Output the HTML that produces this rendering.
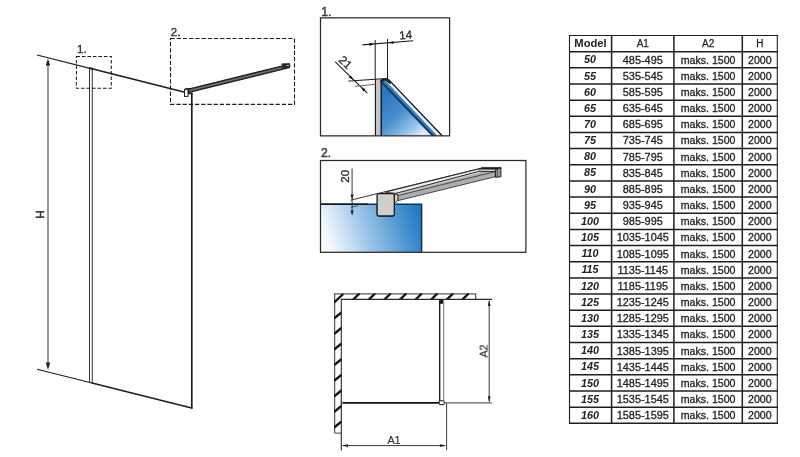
<!DOCTYPE html>
<html><head><meta charset="utf-8"><title>Walk-in shower dimensions</title>
<style>
html,body{margin:0;padding:0;background:#fff;}
body{width:800px;height:457px;overflow:hidden;font-family:"Liberation Sans",sans-serif;}
svg{display:block;}
.gs{filter:grayscale(1);}
svg text{font-family:"Liberation Sans",sans-serif;}
</style></head>
<body>
<svg width="800" height="457" viewBox="0 0 800 457">
<defs>
<linearGradient id="g1" gradientUnits="userSpaceOnUse" x1="383" y1="98" x2="418" y2="138">
<stop offset="0" stop-color="#2c78bd"/><stop offset="0.45" stop-color="#4a92d0"/><stop offset="0.8" stop-color="#9cc6ea"/><stop offset="1" stop-color="#dcecf9"/>
</linearGradient>
<linearGradient id="g2" gradientUnits="userSpaceOnUse" x1="322" y1="246" x2="420" y2="214">
<stop offset="0" stop-color="#ffffff"/><stop offset="0.1" stop-color="#eef5fc"/><stop offset="0.5" stop-color="#8fbde5"/><stop offset="0.85" stop-color="#3f8dcd"/><stop offset="1" stop-color="#2479c0"/>
</linearGradient>
<clipPath id="c1"><rect x="320.5" y="17.8" width="129.1" height="118"/></clipPath>
<clipPath id="c2"><rect x="320.5" y="160.5" width="205.4" height="91.8"/></clipPath>
<clipPath id="cw"><path d="M334.1 293.3 L476 293.3 L476 299.9 L341.8 299.9 L341.8 433.5 L334.1 433.5 Z"/></clipPath>

</defs>
<rect width="800" height="457" fill="#fff"/>

<!-- ===== main isometric drawing ===== -->
<g id="main" class="gs" stroke="#1c1c1c" fill="none" stroke-width="1">
<!-- top slanted line -->
<line x1="37" y1="55" x2="91" y2="68.6" stroke-width="1.15"/>
<line x1="91" y1="68.6" x2="184.8" y2="92.2" stroke-width="1.5"/>
<!-- bottom slanted line -->
<line x1="37" y1="369.3" x2="91" y2="382.8" stroke-width="1.15"/>
<line x1="91" y1="382.8" x2="192.6" y2="408.2" stroke-width="1.4"/>
<!-- H dimension arrow -->
<line x1="48" y1="61" x2="48" y2="367" stroke-width="0.9"/>
<path d="M48 58.6 L50.2 65.6 L45.8 65.6 Z" fill="#1c1c1c" stroke="none"/>
<path d="M48 369.8 L50.2 362.6 L45.8 362.6 Z" fill="#1c1c1c" stroke="none"/>
<!-- glass panel profile (double line) -->
<line x1="89.5" y1="68" x2="89.5" y2="382.4" stroke-width="0.9"/>
<line x1="92.25" y1="68.6" x2="92.25" y2="383.2" stroke-width="0.9"/>
<path d="M89.2 67.9 L93 68.9" stroke-width="2"/>
<!-- right vertical edge -->
<line x1="191.8" y1="93" x2="191.8" y2="408.6" stroke-width="1.7"/>
<path d="M188 93.4 L192.6 93.4" stroke-width="1.5"/>
<!-- dashed callout boxes -->
<rect x="76.4" y="56.4" width="34.9" height="31.9" stroke-dasharray="3.6 1.9" stroke-width="1.05"/>
<rect x="170.5" y="38.45" width="124" height="65.95" stroke-dasharray="4.25 1.95" stroke-width="1.1"/>
<!-- support bar -->
<path d="M187.6 89.3 L288.6 64.4 L289.4 67.6 L188.4 92.6 Z" fill="#4a4a4a" stroke="#1c1c1c" stroke-width="1.1"/>
<path d="M190 90.5 L281 68" stroke="#9a9a9a" stroke-width="0.6"/>
<path d="M281.4 63.9 L289.6 63.6 L290 67 L283.4 67.8" fill="#2a2a2a" stroke="#1c1c1c" stroke-width="0.8"/>
<path d="M286.4 65.6 L289 65.5" stroke="#ddd" stroke-width="0.8"/>
<!-- bracket -->
<rect x="184.5" y="89.6" width="3.5" height="6.8" fill="#fff" stroke-width="1"/>
<path d="M184.4 89.4 L185.4 88.4 L190.6 88.6 L188.2 89.8" fill="#444" stroke-width="0.8"/>
<!-- labels -->
<g stroke="#3a3a3a" stroke-width="0.4" fill="#3a3a3a" font-size="11.5">
<text x="77" y="53.3">1.</text>
<text x="170.8" y="35.6">2.</text>
<text transform="translate(43.5 214.6) rotate(-90)" text-anchor="middle" font-size="11.8" fill="#2a2a2a" stroke="#2a2a2a" stroke-width="0.55">H</text>
</g>

</g>

<!-- ===== detail 1 ===== -->
<g id="d1">
<g clip-path="url(#c1)">
<!-- gray wall profile -->
<rect x="375.4" y="79.6" width="5.8" height="57" fill="#c6c6c8"/>
<!-- blue glass triangle -->
<path d="M381.2 82.6 L381.2 136 L432.6 136 Z" fill="url(#g1)"/>
<!-- frame band along hypotenuse -->
<path d="M381.4 80.2 L388.6 79.6 L442.6 136 L435.2 136 Z" fill="#e2eefa"/>
<path d="M381.4 80.6 L385 80.2 L437.6 136 L432.4 136 Z" fill="#3a7dbd"/>
<path d="M381.8 82.2 L433.6 136.4" stroke="#143a66" stroke-width="2.2" fill="none"/>
<path d="M388.4 79.4 L442.6 136.2" stroke="#101010" stroke-width="1.3" fill="none"/>
<!-- top cap -->
<path d="M380.6 79.2 L387.6 78.2 L391.4 82 L390.2 84.2 L385.2 80.6 L380.6 82.4 Z" fill="#1a2430"/>
<!-- profile edges -->
<line x1="375.4" y1="79.4" x2="375.4" y2="136" stroke="#111" stroke-width="1.1"/>
<line x1="381.2" y1="80" x2="381.2" y2="136" stroke="#0c1626" stroke-width="1.4"/>
</g>
<!-- dimension 14 -->
<g stroke="#1c1c1c" fill="none" stroke-width="1">
<line x1="375.2" y1="39.9" x2="375.2" y2="79.6"/>
<line x1="387.5" y1="39.1" x2="387.5" y2="78.6"/>
<line x1="362.4" y1="44.9" x2="413.2" y2="40.8" stroke-width="1.1"/>
<path d="M374.4 43.9 L369.2 42.8 L369.4 45.9 Z" fill="#1c1c1c" stroke="none"/>
<path d="M388.3 42.8 L393.4 41 L393.6 44 Z" fill="#1c1c1c" stroke="none"/>
<!-- dimension 21 -->
<line x1="335.2" y1="61.8" x2="367.3" y2="93.1" stroke-width="1.1"/>
<line x1="348.4" y1="81.1" x2="387.6" y2="78.4" stroke-width="1"/>
<line x1="354.5" y1="86.4" x2="376" y2="84.2" stroke="#555" stroke-width="0.9"/>
<path d="M353.6 80.1 L348.7 77.6 L350.9 75.4 Z" fill="#1c1c1c" stroke="none"/>
<path d="M360.6 86.6 L365.5 89.2 L363.3 91.4 Z" fill="#1c1c1c" stroke="none"/>
</g>
<g class="gs" fill="#262626" font-size="11.6" stroke="#262626" stroke-width="0.3">
<text transform="translate(406 39) rotate(-4.6)" text-anchor="middle">14</text>
<text transform="translate(335.2 61.8) rotate(44.3)" x="7.8" y="-2.8" text-anchor="middle">21</text>
</g>
<!-- box outline -->
<rect x="320.5" y="17.85" width="129.1" height="118" fill="none" stroke="#2a2a2a" stroke-width="1.25"/>
<text class="gs" x="321.3" y="15.6" font-size="12.2" fill="#3a3a3a" stroke="#3a3a3a" stroke-width="0.45">1.</text>

</g>

<!-- ===== detail 2 ===== -->
<g id="d2">
<g clip-path="url(#c2)">
<!-- blue glass -->
<rect x="320.5" y="204.2" width="101.3" height="48.2" fill="url(#g2)"/>
<!-- glass outline (top + right) -->
<path d="M320.5 204.2 L421.6 204.2 L421.6 252.4" fill="none" stroke="#0f2f58" stroke-width="1.5"/>
<path d="M320.5 204.1 L368 204.1" fill="none" stroke="#111" stroke-width="1.3"/>
<!-- support bar: top face -->
<path d="M385 192.2 L479.7 168.6 L480.2 171.1 L396.4 193.3 Z" fill="#ececec" stroke="#222" stroke-width="0.8" stroke-linejoin="round"/>
<!-- bar side face -->
<path d="M396.4 193.3 L480.2 171.1 L495.3 171.5 L495.3 176.7 L398 200.6 Z" fill="#aeaeae" stroke="#222" stroke-width="0.8" stroke-linejoin="round"/>
<path d="M397.4 195.7 L495.3 171.6" stroke="#333" stroke-width="0.8" fill="none"/>
<path d="M397 194.4 L480.2 172.2" stroke="#d2d2d2" stroke-width="0.9" fill="none"/>
<!-- bar end cap -->
<path d="M479.6 169.2 L481.6 167.4 L500.9 167.4 L500.9 169 L495.6 169.5 Z" fill="#1e1e1e" stroke="#1e1e1e" stroke-width="0.7" stroke-linejoin="round"/>
<path d="M479.9 169.7 L495.3 169.7 L495.3 171.3 L480.2 171 Z" fill="#dcdcdc"/><path d="M480.2 171.3 L495.3 171.5" stroke="#222" stroke-width="0.8"/>
<path d="M495.4 169.8 L500.9 167.7 L500.9 176.8 L495.4 177.3 Z" fill="#9a9a9a" stroke="#1e1e1e" stroke-width="1" stroke-linejoin="round"/>
<path d="M497.4 169.4 L497.4 177" stroke="#333" stroke-width="0.7"/>
<!-- long top-edge line of bar extended to dimension -->
<line x1="350.6" y1="200.2" x2="479.7" y2="168.6" stroke="#222" stroke-width="0.9"/>
<!-- bracket -->
<path d="M394.4 194 L397.9 194.6 L397.9 200.4 L394.4 203.6 Z" fill="#d4d4d4" stroke="#1c1c1c" stroke-width="0.9"/>
<rect x="376.6" y="203.6" width="18.2" height="13" rx="2" ry="2" fill="#0f2f58"/>
<rect x="377.1" y="193.6" width="17.2" height="22.4" rx="1.8" ry="1.8" fill="#cfcfcf" stroke="#1a1a1a" stroke-width="1.3"/>
</g>
<!-- dimension 20 -->
<g stroke="#222" fill="none" stroke-width="0.9">
<line x1="352.1" y1="168.4" x2="352.1" y2="212"/>
<path d="M352.1 199.2 L350.4 194.6 L353.8 194.6 Z" fill="#222" stroke="none"/>
<path d="M352.1 215.4 L350.4 210.6 L353.8 210.6 Z" fill="#222" stroke="none"/>
<path d="M351 207.3 L358.2 205.7" stroke-width="0.7"/>
</g>
<text class="gs" transform="translate(349 176.3) rotate(-90)" text-anchor="middle" font-size="11.4" fill="#262626" stroke="#262626" stroke-width="0.3">20</text>
<!-- box outline -->
<rect x="320.5" y="160.5" width="205.4" height="91.8" fill="none" stroke="#2a2a2a" stroke-width="1.25"/>
<text class="gs" x="321" y="157.4" font-size="12.2" fill="#3a3a3a" stroke="#3a3a3a" stroke-width="0.45">2.</text>

</g>

<!-- ===== plan view ===== -->
<g id="plan">
<g fill="none" stroke-linecap="butt">
<path d="M334.6 433.1 L334.6 293.8 L475.6 293.8 L475.6 299.4" stroke="#5c5c5c" stroke-width="1.3"/>
<path d="M334.6 433.1 L341.3 433.1" stroke="#444" stroke-width="1"/>
<path d="M352.9 299.9 L359.5 293.5 M368.5 299.9 L375.1 293.5 M384.1 299.9 L390.7 293.5 M399.7 299.9 L406.3 293.5 M415.3 299.9 L421.9 293.5 M430.9 299.9 L437.5 293.5 M446.5 299.9 L453.1 293.5 M462.1 299.9 L468.7 293.5 M334.2 302.5 L343.2 294 M334.2 318.3 L341.7 312.2 M334.2 333.9 L341.7 327.8 M334.2 349.5 L341.7 343.4 M334.2 365.1 L341.7 359.0 M334.2 380.7 L341.7 374.6 M334.2 396.3 L341.7 390.2 M334.2 411.9 L341.7 405.8 M334.2 427.5 L341.7 421.4" stroke="#141414" stroke-width="2.4" clip-path="url(#cw)"/>
<path d="M341.3 450.4 L341.3 299.4 L492 299.4" stroke="#2a2a2a" stroke-width="1.1"/>
<path d="M341.3 402.9 L440 402.9" stroke="#111" stroke-width="1.8"/>
<path d="M341.3 401.4 L344 402.9 L341.3 404.4 Z" fill="#fff" stroke="#111" stroke-width="0.7"/>
<path d="M439.7 299.6 L439.7 401" stroke="#111" stroke-width="1.3"/>
<path d="M443.7 299.6 L443.7 401" stroke="#666" stroke-width="0.9"/>
<rect x="439.2" y="299.6" width="3.8" height="4.2" fill="#1a1a1a"/>
<rect x="439.2" y="400.8" width="5" height="3.8" rx="0.8" fill="#fff" stroke="#111" stroke-width="1"/>
<path d="M444.6 402.9 L492 402.9" stroke="#2a2a2a" stroke-width="0.9"/>
<path d="M446.6 403 L446.6 450.4" stroke="#2a2a2a" stroke-width="0.9"/>
<path d="M343 445.6 L445 445.6" stroke="#222" stroke-width="0.9"/>
<path d="M341.6 445.6 L348 444.2 L348 447 Z M446.3 445.6 L439.9 444.2 L439.9 447 Z" fill="#222" stroke="none"/>
<path d="M489.2 301 L489.2 401.4" stroke="#222" stroke-width="0.9"/>
<path d="M489.2 299.7 L487.8 306.1 L490.6 306.1 Z M489.2 402.6 L487.8 396.2 L490.6 396.2 Z" fill="#222" stroke="none"/>
</g>
<g class="gs" fill="#333" stroke="#333" stroke-width="0.2" font-size="10.8" text-anchor="middle">
<text x="394" y="443.6">A1</text>
<text transform="translate(487.6 351) rotate(-90)">A2</text>
</g>

</g>

<!-- ===== table ===== -->
<g id="tgrid" stroke="#1e1e1e" fill="none">
<line x1="569.0" y1="35.50" x2="777.8" y2="35.50" stroke-width="1.0"/>
<line x1="569.0" y1="51.66" x2="777.8" y2="51.66" stroke-width="1.5"/>
<line x1="569.0" y1="67.82" x2="777.8" y2="67.82" stroke-width="1.5"/>
<line x1="569.0" y1="83.98" x2="777.8" y2="83.98" stroke-width="1.5"/>
<line x1="569.0" y1="100.13" x2="777.8" y2="100.13" stroke-width="1.5"/>
<line x1="569.0" y1="116.29" x2="777.8" y2="116.29" stroke-width="1.5"/>
<line x1="569.0" y1="132.45" x2="777.8" y2="132.45" stroke-width="1.5"/>
<line x1="569.0" y1="148.61" x2="777.8" y2="148.61" stroke-width="1.5"/>
<line x1="569.0" y1="164.77" x2="777.8" y2="164.77" stroke-width="1.5"/>
<line x1="569.0" y1="180.93" x2="777.8" y2="180.93" stroke-width="1.5"/>
<line x1="569.0" y1="197.08" x2="777.8" y2="197.08" stroke-width="1.5"/>
<line x1="569.0" y1="213.24" x2="777.8" y2="213.24" stroke-width="1.5"/>
<line x1="569.0" y1="229.40" x2="777.8" y2="229.40" stroke-width="1.5"/>
<line x1="569.0" y1="245.56" x2="777.8" y2="245.56" stroke-width="1.5"/>
<line x1="569.0" y1="261.72" x2="777.8" y2="261.72" stroke-width="1.5"/>
<line x1="569.0" y1="277.88" x2="777.8" y2="277.88" stroke-width="1.5"/>
<line x1="569.0" y1="294.03" x2="777.8" y2="294.03" stroke-width="1.5"/>
<line x1="569.0" y1="310.19" x2="777.8" y2="310.19" stroke-width="1.5"/>
<line x1="569.0" y1="326.35" x2="777.8" y2="326.35" stroke-width="1.5"/>
<line x1="569.0" y1="342.51" x2="777.8" y2="342.51" stroke-width="1.5"/>
<line x1="569.0" y1="358.67" x2="777.8" y2="358.67" stroke-width="1.5"/>
<line x1="569.0" y1="374.83" x2="777.8" y2="374.83" stroke-width="1.5"/>
<line x1="569.0" y1="390.98" x2="777.8" y2="390.98" stroke-width="1.5"/>
<line x1="569.0" y1="407.14" x2="777.8" y2="407.14" stroke-width="1.5"/>
<line x1="569.0" y1="423.30" x2="777.8" y2="423.30" stroke-width="1.5"/>
<line x1="569.5" y1="35.0" x2="569.5" y2="424.0" stroke-width="1.1"/>
<line x1="611.6" y1="35.0" x2="611.6" y2="424.0" stroke-width="1.5"/>
<line x1="673.9" y1="35.0" x2="673.9" y2="424.0" stroke-width="1.5"/>
<line x1="742.3" y1="35.0" x2="742.3" y2="424.0" stroke-width="1.5"/>
<line x1="777.3" y1="35.0" x2="777.3" y2="424.0" stroke-width="1.1"/>
</g>
<g id="ttext" class="gs" fill="#222" text-anchor="middle">
<text x="590.5" y="47.10" font-weight="bold" font-size="11.2">Model</text>
<text x="642.8" y="46.90" font-size="10" stroke="#222" stroke-width="0.25">A1</text>
<text x="708.1" y="46.90" font-size="10" stroke="#222" stroke-width="0.25">A2</text>
<text x="759.8" y="46.90" font-size="10" stroke="#222" stroke-width="0.25">H</text>
<text x="590.0" y="63.36" font-weight="bold" font-style="italic" font-size="10.8">50</text>
<text x="642.8" y="63.66" font-size="10.9" stroke="#222" stroke-width="0.3">485-495</text>
<text x="708.1" y="63.66" font-size="10.6" stroke="#222" stroke-width="0.3">maks. 1500</text>
<text x="759.8" y="63.66" font-size="10.6" stroke="#222" stroke-width="0.3">2000</text>
<text x="590.0" y="79.52" font-weight="bold" font-style="italic" font-size="10.8">55</text>
<text x="642.8" y="79.82" font-size="10.9" stroke="#222" stroke-width="0.3">535-545</text>
<text x="708.1" y="79.82" font-size="10.6" stroke="#222" stroke-width="0.3">maks. 1500</text>
<text x="759.8" y="79.82" font-size="10.6" stroke="#222" stroke-width="0.3">2000</text>
<text x="590.0" y="95.68" font-weight="bold" font-style="italic" font-size="10.8">60</text>
<text x="642.8" y="95.98" font-size="10.9" stroke="#222" stroke-width="0.3">585-595</text>
<text x="708.1" y="95.98" font-size="10.6" stroke="#222" stroke-width="0.3">maks. 1500</text>
<text x="759.8" y="95.98" font-size="10.6" stroke="#222" stroke-width="0.3">2000</text>
<text x="590.0" y="111.83" font-weight="bold" font-style="italic" font-size="10.8">65</text>
<text x="642.8" y="112.13" font-size="10.9" stroke="#222" stroke-width="0.3">635-645</text>
<text x="708.1" y="112.13" font-size="10.6" stroke="#222" stroke-width="0.3">maks. 1500</text>
<text x="759.8" y="112.13" font-size="10.6" stroke="#222" stroke-width="0.3">2000</text>
<text x="590.0" y="127.99" font-weight="bold" font-style="italic" font-size="10.8">70</text>
<text x="642.8" y="128.29" font-size="10.9" stroke="#222" stroke-width="0.3">685-695</text>
<text x="708.1" y="128.29" font-size="10.6" stroke="#222" stroke-width="0.3">maks. 1500</text>
<text x="759.8" y="128.29" font-size="10.6" stroke="#222" stroke-width="0.3">2000</text>
<text x="590.0" y="144.15" font-weight="bold" font-style="italic" font-size="10.8">75</text>
<text x="642.8" y="144.45" font-size="10.9" stroke="#222" stroke-width="0.3">735-745</text>
<text x="708.1" y="144.45" font-size="10.6" stroke="#222" stroke-width="0.3">maks. 1500</text>
<text x="759.8" y="144.45" font-size="10.6" stroke="#222" stroke-width="0.3">2000</text>
<text x="590.0" y="160.31" font-weight="bold" font-style="italic" font-size="10.8">80</text>
<text x="642.8" y="160.61" font-size="10.9" stroke="#222" stroke-width="0.3">785-795</text>
<text x="708.1" y="160.61" font-size="10.6" stroke="#222" stroke-width="0.3">maks. 1500</text>
<text x="759.8" y="160.61" font-size="10.6" stroke="#222" stroke-width="0.3">2000</text>
<text x="590.0" y="176.47" font-weight="bold" font-style="italic" font-size="10.8">85</text>
<text x="642.8" y="176.77" font-size="10.9" stroke="#222" stroke-width="0.3">835-845</text>
<text x="708.1" y="176.77" font-size="10.6" stroke="#222" stroke-width="0.3">maks. 1500</text>
<text x="759.8" y="176.77" font-size="10.6" stroke="#222" stroke-width="0.3">2000</text>
<text x="590.0" y="192.62" font-weight="bold" font-style="italic" font-size="10.8">90</text>
<text x="642.8" y="192.93" font-size="10.9" stroke="#222" stroke-width="0.3">885-895</text>
<text x="708.1" y="192.93" font-size="10.6" stroke="#222" stroke-width="0.3">maks. 1500</text>
<text x="759.8" y="192.93" font-size="10.6" stroke="#222" stroke-width="0.3">2000</text>
<text x="590.0" y="208.78" font-weight="bold" font-style="italic" font-size="10.8">95</text>
<text x="642.8" y="209.08" font-size="10.9" stroke="#222" stroke-width="0.3">935-945</text>
<text x="708.1" y="209.08" font-size="10.6" stroke="#222" stroke-width="0.3">maks. 1500</text>
<text x="759.8" y="209.08" font-size="10.6" stroke="#222" stroke-width="0.3">2000</text>
<text x="590.0" y="224.94" font-weight="bold" font-style="italic" font-size="10.8">100</text>
<text x="642.8" y="225.24" font-size="10.9" stroke="#222" stroke-width="0.3">985-995</text>
<text x="708.1" y="225.24" font-size="10.6" stroke="#222" stroke-width="0.3">maks. 1500</text>
<text x="759.8" y="225.24" font-size="10.6" stroke="#222" stroke-width="0.3">2000</text>
<text x="590.0" y="241.10" font-weight="bold" font-style="italic" font-size="10.8">105</text>
<text x="642.8" y="241.40" font-size="10.9" stroke="#222" stroke-width="0.3">1035-1045</text>
<text x="708.1" y="241.40" font-size="10.6" stroke="#222" stroke-width="0.3">maks. 1500</text>
<text x="759.8" y="241.40" font-size="10.6" stroke="#222" stroke-width="0.3">2000</text>
<text x="590.0" y="257.26" font-weight="bold" font-style="italic" font-size="10.8">110</text>
<text x="642.8" y="257.56" font-size="10.9" stroke="#222" stroke-width="0.3">1085-1095</text>
<text x="708.1" y="257.56" font-size="10.6" stroke="#222" stroke-width="0.3">maks. 1500</text>
<text x="759.8" y="257.56" font-size="10.6" stroke="#222" stroke-width="0.3">2000</text>
<text x="590.0" y="273.42" font-weight="bold" font-style="italic" font-size="10.8">115</text>
<text x="642.8" y="273.72" font-size="10.9" stroke="#222" stroke-width="0.3">1135-1145</text>
<text x="708.1" y="273.72" font-size="10.6" stroke="#222" stroke-width="0.3">maks. 1500</text>
<text x="759.8" y="273.72" font-size="10.6" stroke="#222" stroke-width="0.3">2000</text>
<text x="590.0" y="289.57" font-weight="bold" font-style="italic" font-size="10.8">120</text>
<text x="642.8" y="289.88" font-size="10.9" stroke="#222" stroke-width="0.3">1185-1195</text>
<text x="708.1" y="289.88" font-size="10.6" stroke="#222" stroke-width="0.3">maks. 1500</text>
<text x="759.8" y="289.88" font-size="10.6" stroke="#222" stroke-width="0.3">2000</text>
<text x="590.0" y="305.73" font-weight="bold" font-style="italic" font-size="10.8">125</text>
<text x="642.8" y="306.03" font-size="10.9" stroke="#222" stroke-width="0.3">1235-1245</text>
<text x="708.1" y="306.03" font-size="10.6" stroke="#222" stroke-width="0.3">maks. 1500</text>
<text x="759.8" y="306.03" font-size="10.6" stroke="#222" stroke-width="0.3">2000</text>
<text x="590.0" y="321.89" font-weight="bold" font-style="italic" font-size="10.8">130</text>
<text x="642.8" y="322.19" font-size="10.9" stroke="#222" stroke-width="0.3">1285-1295</text>
<text x="708.1" y="322.19" font-size="10.6" stroke="#222" stroke-width="0.3">maks. 1500</text>
<text x="759.8" y="322.19" font-size="10.6" stroke="#222" stroke-width="0.3">2000</text>
<text x="590.0" y="338.05" font-weight="bold" font-style="italic" font-size="10.8">135</text>
<text x="642.8" y="338.35" font-size="10.9" stroke="#222" stroke-width="0.3">1335-1345</text>
<text x="708.1" y="338.35" font-size="10.6" stroke="#222" stroke-width="0.3">maks. 1500</text>
<text x="759.8" y="338.35" font-size="10.6" stroke="#222" stroke-width="0.3">2000</text>
<text x="590.0" y="354.21" font-weight="bold" font-style="italic" font-size="10.8">140</text>
<text x="642.8" y="354.51" font-size="10.9" stroke="#222" stroke-width="0.3">1385-1395</text>
<text x="708.1" y="354.51" font-size="10.6" stroke="#222" stroke-width="0.3">maks. 1500</text>
<text x="759.8" y="354.51" font-size="10.6" stroke="#222" stroke-width="0.3">2000</text>
<text x="590.0" y="370.37" font-weight="bold" font-style="italic" font-size="10.8">145</text>
<text x="642.8" y="370.67" font-size="10.9" stroke="#222" stroke-width="0.3">1435-1445</text>
<text x="708.1" y="370.67" font-size="10.6" stroke="#222" stroke-width="0.3">maks. 1500</text>
<text x="759.8" y="370.67" font-size="10.6" stroke="#222" stroke-width="0.3">2000</text>
<text x="590.0" y="386.53" font-weight="bold" font-style="italic" font-size="10.8">150</text>
<text x="642.8" y="386.83" font-size="10.9" stroke="#222" stroke-width="0.3">1485-1495</text>
<text x="708.1" y="386.83" font-size="10.6" stroke="#222" stroke-width="0.3">maks. 1500</text>
<text x="759.8" y="386.83" font-size="10.6" stroke="#222" stroke-width="0.3">2000</text>
<text x="590.0" y="402.68" font-weight="bold" font-style="italic" font-size="10.8">155</text>
<text x="642.8" y="402.98" font-size="10.9" stroke="#222" stroke-width="0.3">1535-1545</text>
<text x="708.1" y="402.98" font-size="10.6" stroke="#222" stroke-width="0.3">maks. 1500</text>
<text x="759.8" y="402.98" font-size="10.6" stroke="#222" stroke-width="0.3">2000</text>
<text x="590.0" y="418.84" font-weight="bold" font-style="italic" font-size="10.8">160</text>
<text x="642.8" y="419.14" font-size="10.9" stroke="#222" stroke-width="0.3">1585-1595</text>
<text x="708.1" y="419.14" font-size="10.6" stroke="#222" stroke-width="0.3">maks. 1500</text>
<text x="759.8" y="419.14" font-size="10.6" stroke="#222" stroke-width="0.3">2000</text>
</g>
</svg>
</body></html>
